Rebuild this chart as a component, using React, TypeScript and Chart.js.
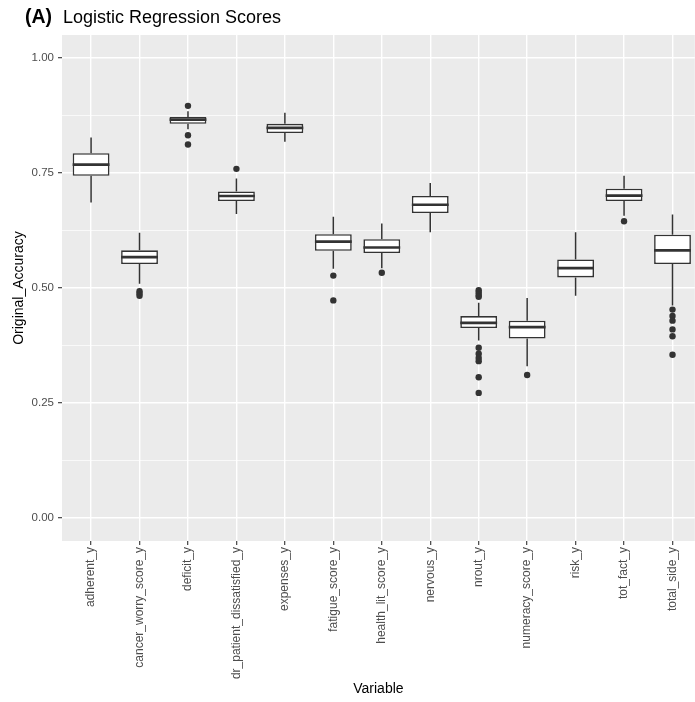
import React, { useEffect, useRef } from "react";
import { Chart, registerables } from "chart.js";

Chart.register(...registerables);

const categories = [
  "adherent_y",
  "cancer_worry_score_y",
  "deficit_y",
  "dr_patient_dissatisfied_y",
  "expenses_y",
  "fatigue_score_y",
  "health_lit_score_y",
  "nervous_y",
  "nrout_y",
  "numeracy_score_y",
  "risk_y",
  "tot_fact_y",
  "total_side_y",
];

const whiskerHigh = [0.827, 0.62, 0.884, 0.738, 0.881, 0.655, 0.64, 0.728, 0.468, 0.478, 0.621, 0.744, 0.66];
const q3 = [0.793, 0.582, 0.872, 0.71, 0.857, 0.617, 0.606, 0.7, 0.439, 0.429, 0.562, 0.716, 0.616];
const median = [0.768, 0.567, 0.866, 0.7, 0.848, 0.601, 0.588, 0.681, 0.424, 0.415, 0.543, 0.701, 0.582];
const q1 = [0.744, 0.552, 0.857, 0.689, 0.837, 0.581, 0.576, 0.663, 0.413, 0.39, 0.523, 0.689, 0.552];
const whiskerLow = [0.686, 0.509, 0.845, 0.661, 0.818, 0.542, 0.543, 0.621, 0.386, 0.33, 0.483, 0.657, 0.462];

const outliers: number[][] = [
  [],
  [0.493, 0.488, 0.483],
  [0.896, 0.832, 0.812],
  [0.759],
  [],
  [0.527, 0.473],
  [0.533],
  [],
  [0.495, 0.49, 0.485, 0.481, 0.37, 0.357, 0.348, 0.341, 0.306, 0.272],
  [0.311],
  [],
  [0.645],
  [0.453, 0.439, 0.429, 0.41, 0.395, 0.355],
];

const yMajorTicks = [0, 0.25, 0.5, 0.75, 1];
const yTickLabels = ["0.00", "0.25", "0.50", "0.75", "1.00"];
const yMinorTicks = [0.125, 0.375, 0.625, 0.875];

const titleTag = "(A)";
const titleText = "Logistic Regression Scores";
const xTitle = "Variable";
const yTitle = "Original_Accuracy";

const FONT = "'Liberation Sans', Arial, Helvetica, sans-serif";

const isMajor = (v: number) => yMajorTicks.some((m) => Math.abs(m - v) < 1e-9);

const bgPlugin = {
  id: "ggBackground",
  beforeDraw(chart: any) {
    const { ctx, chartArea, width, height } = chart;
    ctx.save();
    ctx.fillStyle = "#FFFFFF";
    ctx.fillRect(0, 0, width, height);
    ctx.fillStyle = "#EBEBEB";
    ctx.fillRect(chartArea.left, chartArea.top, chartArea.right - chartArea.left, chartArea.bottom - chartArea.top);
    ctx.restore();
  },
};

const boxPlugin = {
  id: "ggBoxParts",
  beforeDatasetsDraw(chart: any) {
    const { ctx } = chart;
    const xs = chart.scales.x;
    const ys = chart.scales.y;
    ctx.save();
    ctx.strokeStyle = "#333333";
    ctx.lineWidth = 1.5;
    categories.forEach((_, i) => {
      const px = xs.getPixelForValue(i);
      ctx.beginPath();
      ctx.moveTo(px, ys.getPixelForValue(whiskerHigh[i]));
      ctx.lineTo(px, ys.getPixelForValue(q3[i]));
      ctx.moveTo(px, ys.getPixelForValue(q1[i]));
      ctx.lineTo(px, ys.getPixelForValue(whiskerLow[i]));
      ctx.stroke();
    });
    ctx.restore();
  },
  afterDatasetsDraw(chart: any) {
    const { ctx } = chart;
    const xs = chart.scales.x;
    const ys = chart.scales.y;
    const meta = chart.getDatasetMeta(0);
    ctx.save();
    ctx.strokeStyle = "#333333";
    ctx.lineWidth = 2.7;
    categories.forEach((_, i) => {
      const px = xs.getPixelForValue(i);
      const w = meta.data[i] ? meta.data[i].width : 36;
      const py = ys.getPixelForValue(median[i]);
      ctx.beginPath();
      ctx.moveTo(px - w / 2, py);
      ctx.lineTo(px + w / 2, py);
      ctx.stroke();
    });
    ctx.restore();
  },
};

const titlePlugin = {
  id: "ggTitle",
  afterDraw(chart: any) {
    const { ctx } = chart;
    ctx.save();
    ctx.fillStyle = "#000000";
    ctx.textBaseline = "alphabetic";
    ctx.textAlign = "left";
    ctx.font = `bold 19.5px ${FONT}`;
    ctx.fillText(titleTag, 25, 23);
    ctx.font = `18px ${FONT}`;
    ctx.fillText(titleText, 63, 23);
    ctx.restore();
  },
};

export default function App() {
  const canvasRef = useRef<HTMLCanvasElement | null>(null);

  useEffect(() => {
    document.body.style.margin = "0";
    document.body.style.overflow = "hidden";
    const canvas = canvasRef.current;
    if (!canvas) return;
    const chart = new Chart(canvas, {
      type: "bar",
      data: {
        datasets: [
          {
            type: "bar",
            data: categories.map((_, i) => ({ x: i, y: [q1[i], q3[i]] })) as any,
            backgroundColor: "#FFFFFF",
            borderColor: "#333333",
            borderWidth: 1.6,
            borderSkipped: false,
            barPercentage: 0.76,
            categoryPercentage: 1,
          } as any,
          {
            type: "scatter",
            data: outliers.flatMap((vals, i) => vals.map((v) => ({ x: i, y: v }))),
            pointRadius: 3.2,
            pointHoverRadius: 3.2,
            backgroundColor: "#333333",
            borderWidth: 0,
          } as any,
        ],
      },
      options: {
        animation: false,
        responsive: false,
        devicePixelRatio: 1,
        layout: { padding: { top: 35, left: 0, right: 0, bottom: 0 } },
        plugins: {
          legend: { display: false },
          tooltip: { enabled: false },
          title: { display: false },
        },
        scales: {
          x: {
            type: "linear",
            min: -0.6,
            max: 12.46,
            offset: false,
            afterBuildTicks: (s: any) => {
              s.ticks = categories.map((_, i) => ({ value: i }));
            },
            afterFit: (s: any) => {
              s.height = 161;
              s.paddingRight = 0;
              s.paddingLeft = 0;
            },
            ticks: {
              autoSkip: false,
              minRotation: 90,
              maxRotation: 90,
              padding: 2,
              color: "#4D4D4D",
              font: { family: FONT, size: 12 },
              callback: (v: any) => categories[Math.round(Number(v))] ?? "",
            },
            grid: {
              color: "#FFFFFF",
              lineWidth: 1.4,
              tickColor: "#333333",
              tickLength: 4,
              tickWidth: 1.1,
              offset: false,
            },
            border: { display: false },
            title: {
              display: true,
              text: xTitle,
              color: "#000000",
              font: { family: FONT, size: 14 },
              padding: { top: 0, bottom: 4.6 },
            },
          } as any,
          y: {
            type: "linear",
            min: -0.05,
            max: 1.05,
            afterBuildTicks: (s: any) => {
              s.ticks = [...yMajorTicks, ...yMinorTicks].sort((a, b) => a - b).map((v) => ({ value: v }));
            },
            afterFit: (s: any) => {
              s.width = 62;
            },
            ticks: {
              color: "#4D4D4D",
              padding: 4,
              font: { family: FONT, size: 11.5 },
              callback: (v: any) => {
                const idx = yMajorTicks.findIndex((m) => Math.abs(m - Number(v)) < 1e-9);
                return idx >= 0 ? yTickLabels[idx] : "";
              },
            },
            grid: {
              color: "#FFFFFF",
              lineWidth: (c: any) => (c.tick && isMajor(c.tick.value) ? 1.4 : 0.7),
              tickColor: (c: any) => (c.tick && isMajor(c.tick.value) ? "#333333" : "rgba(0,0,0,0)"),
              tickLength: 4,
              tickWidth: 1.1,
            },
            border: { display: false },
            title: {
              display: true,
              text: yTitle,
              color: "#000000",
              font: { family: FONT, size: 14 },
              padding: { top: 10.6, bottom: 0 },
            },
          } as any,
        },
      },
      plugins: [bgPlugin, boxPlugin, titlePlugin],
    });
    return () => chart.destroy();
  }, []);

  return (
    <div style={{ width: 695, height: 702, overflow: "hidden" }}>
      <canvas ref={canvasRef} width={698} height={702} style={{ display: "block" }} />
    </div>
  );
}
